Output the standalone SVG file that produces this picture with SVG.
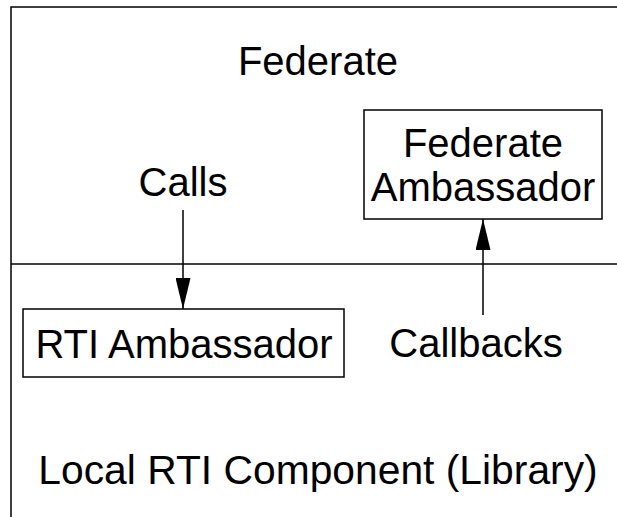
<svg xmlns="http://www.w3.org/2000/svg" width="617" height="517" viewBox="0 0 617 517">
<defs>
<style>
.t{font-family:"Liberation Sans",Arial,sans-serif;font-size:40px;fill:#000;text-anchor:middle}
.b{fill:#fff;stroke:#000;stroke-width:1.5}
.l{stroke:#000;stroke-width:1.5;fill:none}
</style>
<marker id="ah" markerWidth="32" markerHeight="15" refX="31" refY="7.5" orient="auto" markerUnits="userSpaceOnUse" viewBox="0 0 32 15">
<path d="M0,0 L31,7.5 L0,15 Z" fill="#000"/>
</marker>
</defs>
<rect width="617" height="517" fill="#fff"/>
<g id="outer">
<path class="l" d="M11,517 L11,7 L617,7"/>
<line class="l" x1="11" y1="264" x2="617" y2="264"/>
<text class="t" x="318" y="75">Federate</text>
<text class="t" x="318" y="484" style="font-size:40.8px">Local RTI Component (Library)</text>
</g>
<g id="federate-ambassador">
<rect class="b" x="364" y="110" width="238" height="109"/>
<text class="t" x="483" y="157">Federate</text>
<text class="t" x="483" y="201">Ambassador</text>
</g>
<g id="rti-ambassador">
<rect class="b" x="23" y="309" width="321" height="68"/>
<text class="t" x="184" y="358">RTI Ambassador</text>
</g>
<g id="connectors">
<line class="l" x1="183" y1="210" x2="183" y2="309" marker-end="url(#ah)"/>
<line class="l" x1="483" y1="315" x2="483" y2="219" marker-end="url(#ah)"/>
<text class="t" x="183" y="196">Calls</text>
<text class="t" x="476" y="357">Callbacks</text>
</g>
</svg>
